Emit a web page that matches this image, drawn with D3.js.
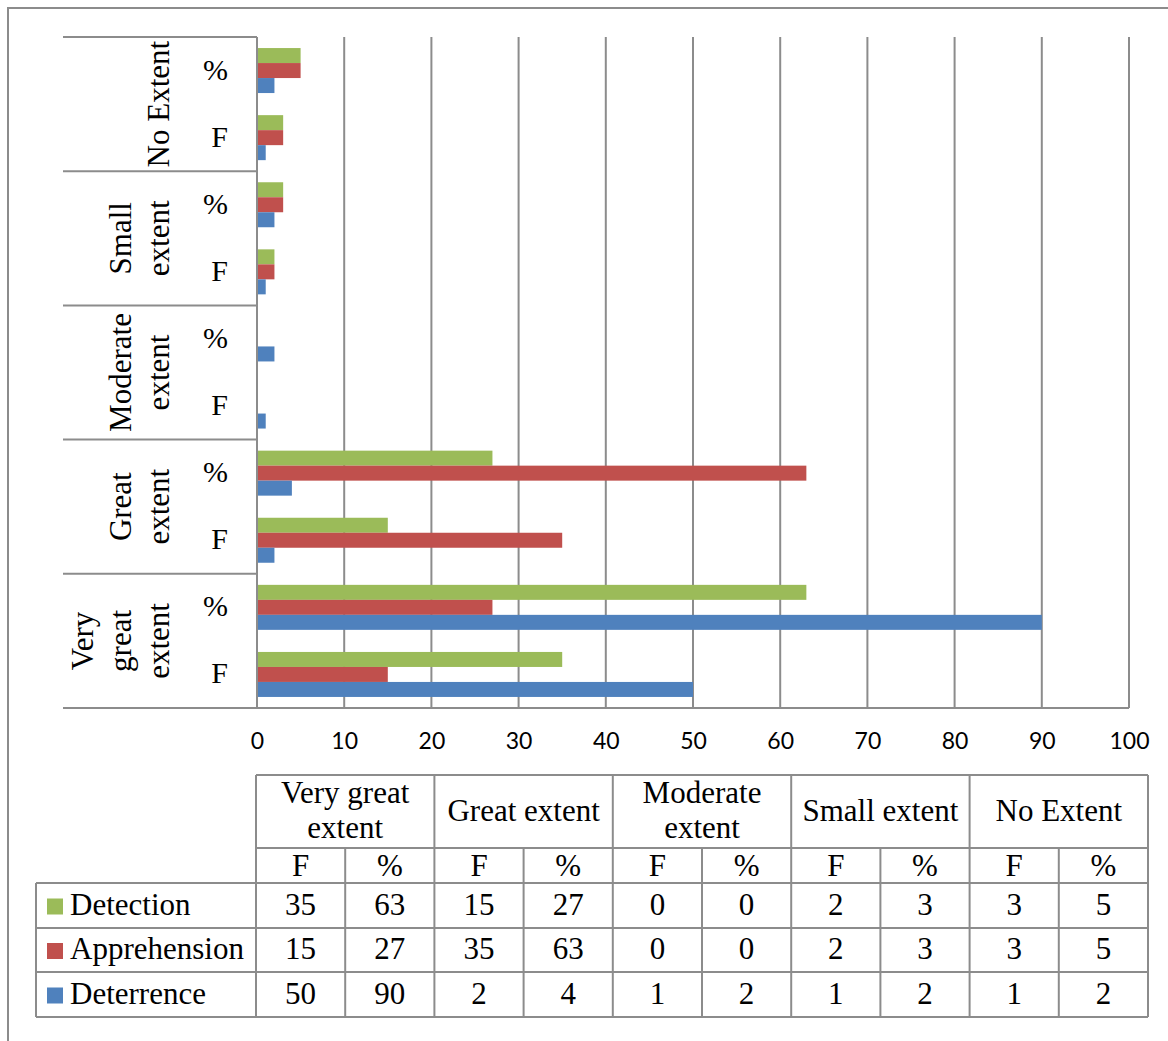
<!DOCTYPE html>
<html>
<head>
<meta charset="utf-8">
<script src="https://cdn.jsdelivr.net/npm/d3@7"></script>
<style>
  html, body { margin: 0; padding: 0; background: #fff; }
  svg { display: block; }
</style>
</head>
<body>
<svg id="chart" width="1168" height="1041"></svg>
<script>
// Extent levels, bottom-to-top order in the chart
const categories = ["Very great extent", "Great extent", "Moderate extent", "Small extent", "No Extent"];
const categoryAxisLines = [["Very", "great", "extent"], ["Great", "extent"], ["Moderate", "extent"], ["Small", "extent"], ["No Extent"]];
const tableHeaderLines = [["Very great", "extent"], ["Great extent"], ["Moderate", "extent"], ["Small extent"], ["No Extent"]];
const measures = ["F", "%"];
const seriesNames = ["Detection", "Apprehension", "Deterrence"];
const seriesColors = ["#9BBB59", "#C0504D", "#4F81BD"];

// Values per series, in order: [VGE F, VGE %, GE F, GE %, ME F, ME %, SE F, SE %, NE F, NE %]
const detection    = [35, 63, 15, 27, 0, 0, 2, 3, 3, 5];
const apprehension = [15, 27, 35, 63, 0, 0, 2, 3, 3, 5];
const deterrence   = [50, 90, 2, 4, 1, 2, 1, 2, 1, 2];
const seriesValues = [detection, apprehension, deterrence];

const xTicks = [0, 10, 20, 30, 40, 50, 60, 70, 80, 90, 100];

const svg = d3.select("#chart");
const gridColor = "#8c8c8c";
const serif = "'Liberation Serif', 'Times New Roman', serif";

// outer frame
svg.append("rect").attr("x", 8).attr("y", 8).attr("width", 1180).attr("height", 1060)
  .attr("fill", "none").attr("stroke", gridColor).attr("stroke-width", 2);

// row keys: category x measure, listed top to bottom
const rows = [];
for (let c = categories.length - 1; c >= 0; c--) {
  for (let m = measures.length - 1; m >= 0; m--) rows.push({ c, m, idx: c * 2 + m });
}

const x = d3.scaleLinear().domain([0, 100]).range([257, 1129]);
const y = d3.scaleBand().domain(rows.map(r => r.idx)).range([37, 708]);
const ySeries = d3.scaleBand().domain(d3.range(seriesNames.length))
  .range([0, y.bandwidth()]).paddingInner(0).paddingOuter(0.737);
const yCat = d3.scaleBand().domain(d3.range(categories.length).reverse()).range([37, 708]);

// vertical gridlines
svg.append("g").selectAll("line").data(xTicks.slice(1)).join("line")
  .attr("x1", d => x(d)).attr("x2", d => x(d))
  .attr("y1", 37).attr("y2", 708)
  .attr("stroke", gridColor).attr("stroke-width", 2);

// bars
const bars = svg.append("g");
seriesValues.forEach((vals, s) => {
  bars.selectAll(null).data(rows).join("rect")
    .attr("x", x(0))
    .attr("y", r => y(r.idx) + ySeries(s))
    .attr("width", r => x(vals[r.idx]) - x(0))
    .attr("height", ySeries.bandwidth())
    .attr("fill", seriesColors[s]);
});

// category axis: separators and value axis line
const boundaries = d3.range(categories.length + 1).map(i => 37 + i * yCat.step());
svg.append("g").selectAll("line").data(boundaries).join("line")
  .attr("x1", 63).attr("x2", d => d === 708 ? x(100) : x(0))
  .attr("y1", d => d).attr("y2", d => d)
  .attr("stroke", gridColor).attr("stroke-width", 2);
svg.append("line").attr("x1", x(0)).attr("x2", x(0)).attr("y1", 37).attr("y2", 708)
  .attr("stroke", gridColor).attr("stroke-width", 2);

// F / % labels
svg.append("g").selectAll("text").data(rows).join("text")
  .attr("x", 228).attr("y", r => y(r.idx) + y.bandwidth() / 2 + 9)
  .attr("text-anchor", "end").attr("font-family", serif).attr("font-size", 30)
  .text(r => measures[r.m]);

// rotated category labels
const catG = svg.append("g");
categories.forEach((cat, c) => {
  const lines = categoryAxisLines[c];
  const cy = yCat(c) + yCat.bandwidth() / 2;
  lines.forEach((ln, i) => {
    const bx = 169 - (lines.length - 1 - i) * 38;
    catG.append("text")
      .attr("transform", `translate(${bx},${cy}) rotate(-90)`)
      .attr("text-anchor", "middle").attr("font-family", serif).attr("font-size", 31)
      .text(ln);
  });
});

// value axis tick labels
const axis = d3.axisBottom(x).tickValues(xTicks).tickSize(0).tickPadding(0).tickFormat(d3.format("d"));
const axG = svg.append("g").attr("transform", "translate(0,732)").call(axis);
axG.select(".domain").remove();
axG.selectAll("text").attr("font-family", "Lato, 'Open Sans', sans-serif").attr("font-size", 23)
  .attr("fill", "#000").attr("dy", "0.76em");

// data table
const colX = d3.scaleBand().domain(d3.range(categories.length * 2)).range([256, 1148]);
const rowY = [775, 848, 883, 928, 972, 1017];
const tbl = svg.append("g").attr("font-family", serif).attr("font-size", 31).attr("fill", "#000");
const lineAttrs = sel => sel.attr("stroke", gridColor).attr("stroke-width", 2);

// horizontal rules
tbl.append("line").attr("x1", 256).attr("x2", 1148).attr("y1", rowY[0]).attr("y2", rowY[0]).call(lineAttrs);
tbl.append("line").attr("x1", 256).attr("x2", 1148).attr("y1", rowY[1]).attr("y2", rowY[1]).call(lineAttrs);
rowY.slice(2).forEach(yy => tbl.append("line").attr("x1", 36).attr("x2", 1148).attr("y1", yy).attr("y2", yy).call(lineAttrs));
// vertical rules
tbl.append("line").attr("x1", 36).attr("x2", 36).attr("y1", rowY[2]).attr("y2", rowY[5]).call(lineAttrs);
d3.range(categories.length * 2 + 1).forEach(i => {
  const xx = 256 + i * colX.step();
  const top = (i % 2 === 1) ? rowY[1] : rowY[0];
  tbl.append("line").attr("x1", xx).attr("x2", xx).attr("y1", top).attr("y2", rowY[5]).call(lineAttrs);
});

// header: category names
categories.forEach((cat, c) => {
  const cx = colX(c * 2) + colX.step();
  const lines = tableHeaderLines[c];
  const mid = (rowY[0] + rowY[1]) / 2;
  lines.forEach((ln, i) => {
    tbl.append("text").attr("x", cx).attr("y", mid + 9 + (i - (lines.length - 1) / 2) * 35)
      .attr("text-anchor", "middle").text(ln);
  });
  measures.forEach((m, k) => {
    tbl.append("text").attr("x", colX(c * 2 + k) + colX.bandwidth() / 2)
      .attr("y", (rowY[1] + rowY[2]) / 2 + 10).attr("text-anchor", "middle").text(m);
  });
});

// series rows with legend keys
seriesNames.forEach((name, s) => {
  const mid = (rowY[2 + s] + rowY[3 + s]) / 2;
  tbl.append("rect").attr("x", 47).attr("y", mid - 7).attr("width", 16).attr("height", 16).attr("fill", seriesColors[s]);
  tbl.append("text").attr("x", 70).attr("y", mid + 9).text(name);
  seriesValues[s].forEach((v, i) => {
    tbl.append("text").attr("x", colX(i) + colX.bandwidth() / 2).attr("y", mid + 9)
      .attr("text-anchor", "middle").text(v);
  });
});
</script>
</body>
</html>
